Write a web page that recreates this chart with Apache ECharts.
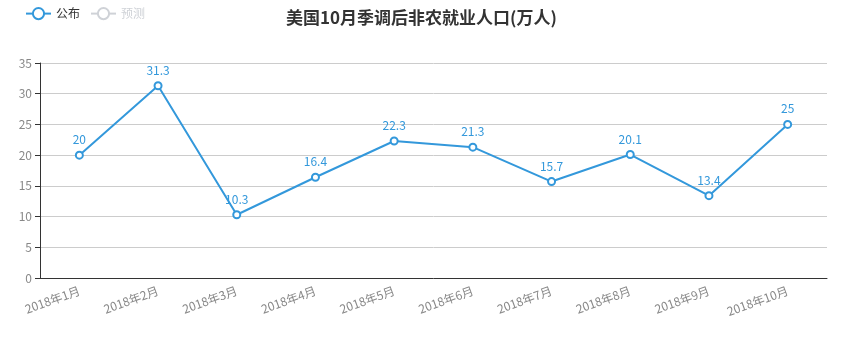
<!DOCTYPE html>
<html><head><meta charset="utf-8">
<script src="https://cdn.jsdelivr.net/npm/echarts@6/dist/echarts.min.js"></script>
<style>html,body{margin:0;padding:0;background:#fff}#c{width:843px;height:340px}</style>
</head><body><div id="c"></div>
<script>
var categories = ['2018年1月','2018年2月','2018年3月','2018年4月','2018年5月','2018年6月','2018年7月','2018年8月','2018年9月','2018年10月'];
var publishedValues = [20, 31.3, 10.3, 16.4, 22.3, 21.3, 15.7, 20.1, 13.4, 25];
var forecastValues = [];
var yTicks = {min: 0, max: 35, interval: 5};

var chart = echarts.init(document.getElementById('c'));
var font = '"Noto Sans CJK SC", "Noto Sans", sans-serif';
chart.setOption({
  textStyle: {fontFamily: font},
  title: {text: '美国10月季调后非农就业人口(万人)', left: 'center', top: 4,
    textStyle: {fontSize: 17, fontWeight: 'bold', color: '#333', fontFamily: font}},
  legend: {left: 20, top: 2, data: ['公布', '预测'], selected: {'预测': false},
    textStyle: {fontSize: 12, color: '#333'}, itemGap: 10},
  grid: {left: 40, right: 16, top: 63, bottom: 62},
  xAxis: {type: 'category', data: categories, boundaryGap: true,
    axisLine: {lineStyle: {color: '#333'}},
    axisTick: {lineStyle: {color: '#333'}},
    axisLabel: {rotate: 20, color: '#888', fontSize: 12, margin: 12, interval: 0}},
  yAxis: {type: 'value', min: yTicks.min, max: yTicks.max, interval: yTicks.interval,
    axisLine: {show: true, lineStyle: {color: '#333'}},
    axisTick: {show: true, lineStyle: {color: '#333'}},
    axisLabel: {color: '#888', fontSize: 12},
    splitLine: {lineStyle: {color: '#ccc'}}},
  series: [
    {name: '公布', type: 'line', data: publishedValues, symbol: 'emptyCircle', symbolSize: 7,
      itemStyle: {color: '#3398DB', borderWidth: 1}, lineStyle: {color: '#3398DB', width: 2},
      label: {show: true, position: 'top', color: '#3398DB', fontSize: 12}},
    {name: '预测', type: 'line', data: forecastValues, symbol: 'emptyCircle', symbolSize: 7,
      itemStyle: {color: '#91c7ae', borderWidth: 1}}
  ]
});
</script></body></html>
